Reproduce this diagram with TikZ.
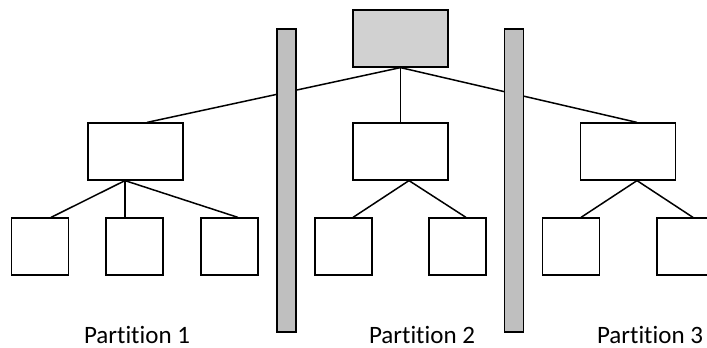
\documentclass[tikz,border=0pt]{standalone}
\usepackage{fontspec}
\setmainfont{Carlito}[RawFeature={-liga}]
\begin{document}
\begin{tikzpicture}[x=1pt,y=-1pt,
  box/.style={draw=black,line width=1.2pt,inner sep=0pt,minimum width=95pt,minimum height=57pt},
  leaf/.style={draw=black,line width=1.2pt,inner sep=0pt,minimum width=57pt,minimum height=57pt},
  bar/.style={draw=black,line width=1.2pt,fill=black!25,inner sep=0pt,minimum width=19pt,minimum height=303pt},
  link/.style={draw=black,line width=1.5pt},
  lbl/.style={font=\fontsize{25}{29}\selectfont,inner sep=0pt,anchor=base}]
\useasboundingbox (0,0) rectangle (707,348);
\clip (0,0) rectangle (707,348);
\fill[white] (0,0) rectangle (707,348);
% nodes
\node[box,fill=black!18] (root) at (400.5,38.5) {};
\node[box] (m1) at (135.5,151.5) {};
\node[box] (m2) at (400.5,151.5) {};
\node[box] (m3) at (628,151.5) {};
\node[leaf] (l1) at (40,246.5) {};
\node[leaf] (l2) at (134.5,246.5) {};
\node[leaf] (l3) at (229.5,246.5) {};
\node[leaf] (l4) at (343.5,246.5) {};
\node[leaf] (l5) at (457.5,246.5) {};
\node[leaf] (l6) at (571,246.5) {};
\node[leaf] (l7) at (685.5,246.5) {};
% connectors
\draw[link] (root.south) -- ([xshift=11.5pt]m1.north);
\draw[link] (root.south) -- (m2.north);
\draw[link] (root.south) -- ([xshift=9pt]m3.north);
\draw[link] ([xshift=-10.5pt]m1.south) -- ([xshift=11pt]l1.north);
\draw[link] ([xshift=-10.5pt]m1.south) -- ([xshift=-9.5pt]l2.north);
\draw[link] ([xshift=-10.5pt]m1.south) -- ([xshift=8.5pt]l3.north);
\draw[link] ([xshift=8.5pt]m2.south) -- ([xshift=9.5pt]l4.north);
\draw[link] ([xshift=8.5pt]m2.south) -- ([xshift=8.5pt]l5.north);
\draw[link] ([xshift=9pt]m3.south) -- ([xshift=10pt]l6.north);
\draw[link] ([xshift=9pt]m3.south) -- ([xshift=7.5pt]l7.north);
% partition bars
\node[bar] (b1) at (286.5,180.5) {};
\node[bar] (b2) at (514,180.5) {};
% labels
\node[lbl] (p1) at (137,343) {Partition 1};
\node[lbl] (p2) at (422,343) {Partition 2};
\node[lbl] (p3) at (650,343) {Partition 3};
\end{tikzpicture}
\end{document}
